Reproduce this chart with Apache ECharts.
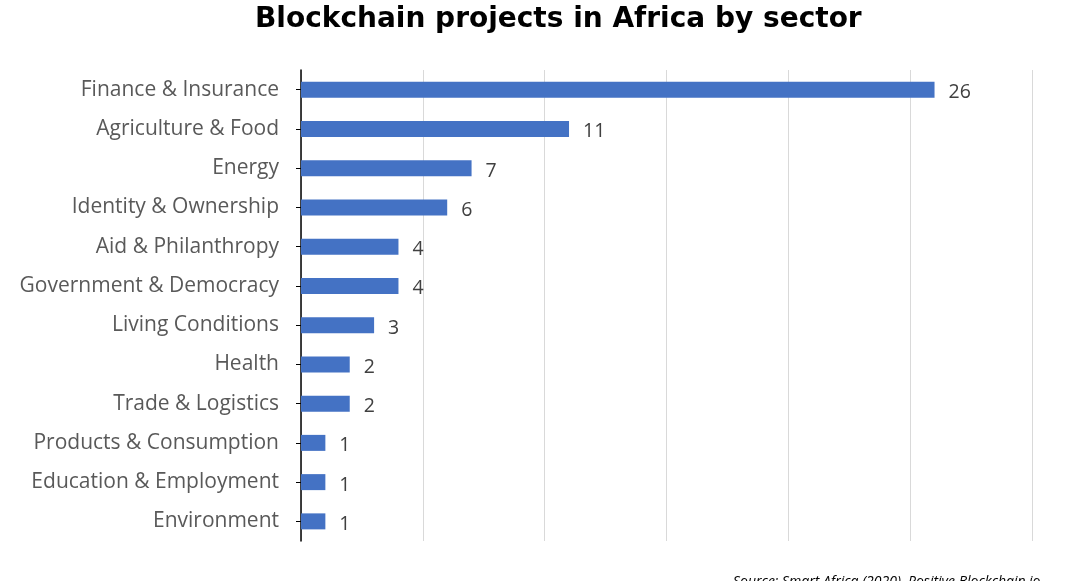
<!DOCTYPE html>
<html><head><meta charset="utf-8">
<script src="https://cdn.jsdelivr.net/npm/echarts@6/dist/echarts.min.js"></script>
<style>html,body{margin:0;padding:0;background:#fff;overflow:hidden}#c{width:1080px;height:581px}</style>
</head><body><div id="c"></div>
<script>
const categories = ["Finance & Insurance","Agriculture & Food","Energy","Identity & Ownership","Aid & Philanthropy","Government & Democracy","Living Conditions","Health","Trade & Logistics","Products & Consumption","Education & Employment","Environment"];
const values = [26,11,7,6,4,4,3,2,2,1,1,1];
const titleText = "Blockchain projects in Africa by sector";
const sourceText = "Source: Smart Africa (2020), Positive Blockchain.io";

const chart = echarts.init(document.getElementById('c'));
chart.setOption({
  animation:false,
  backgroundColor:'#fff',
  title:{text:titleText,left:250,top:1,textStyle:{fontFamily:'DejaVu Sans',fontWeight:'bold',fontSize:28,color:'#000'}},
  graphic:[{type:'text',left:733,top:575,style:{text:sourceText,font:'italic 14px "Open Sans"',fill:'#000'}}],
  grid:{left:301,right:48,top:70,bottom:40,containLabel:false},
  xAxis:{type:'value',min:0,max:30,interval:5,axisLabel:{show:false},axisLine:{show:false},axisTick:{show:false},
    splitLine:{show:true,lineStyle:{color:'#d9d9d9',width:1}}},
  yAxis:{type:'category',inverse:true,data:categories,
    axisLine:{show:true,lineStyle:{color:'#000',width:1.5}},
    axisTick:{show:true,alignWithLabel:true,length:5,lineStyle:{color:'#000'}},
    axisLabel:{fontFamily:'Open Sans',fontSize:21,color:'#595959',margin:22}},
  series:[{type:'bar',data:values,barWidth:16,itemStyle:{color:'#4472c4'},
    label:{show:true,position:'right',distance:14,offset:[0,3],fontFamily:'Open Sans',fontSize:19.5,color:'#404040'}}]
});
</script></body></html>
